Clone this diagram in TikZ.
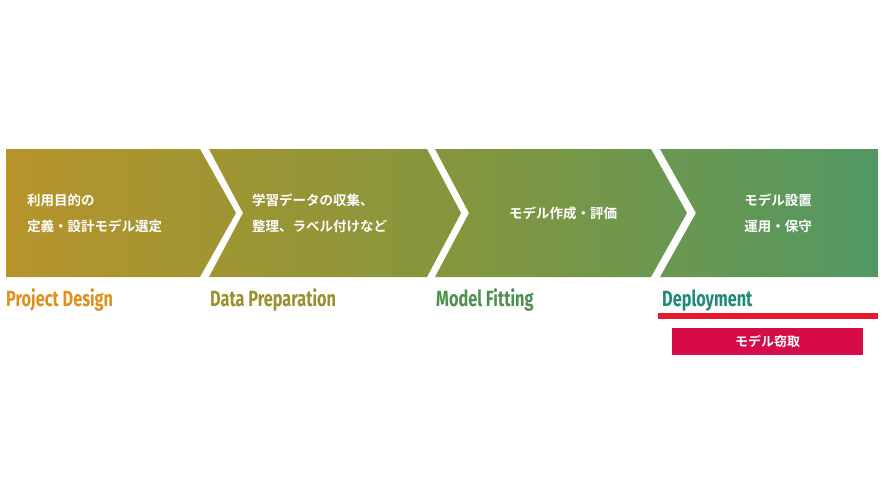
\documentclass[tikz,border=0pt]{standalone}
\usepackage{fontspec}
\newfontfamily\jp{Noto Sans CJK JP}[BoldFont={* Bold}]
\newfontfamily\cond{Fira Sans}[FakeStretch=0.74]
\definecolor{cA}{HTML}{E8921A}
\definecolor{cB}{HTML}{86963C}
\definecolor{cC}{HTML}{1E9A8A}
\definecolor{lA}{HTML}{E0901C}
\definecolor{lB}{HTML}{9A902E}
\definecolor{lC}{HTML}{4E9050}
\definecolor{lD}{HTML}{208A78}
\definecolor{redline}{HTML}{E8192C}
\definecolor{boxred}{HTML}{D60B48}
\pgfdeclarehorizontalshading{band}{100bp}{color(0bp)=(cA); color(50bp)=(cB); color(100bp)=(cC)}
\tikzset{
  jtext/.style={text=white,font=\jp\bfseries\fontsize{13.5}{26}\selectfont,align=left,inner sep=0pt},
  lab/.style={font=\cond\bfseries\fontsize{22}{24}\selectfont,anchor=base west,inner sep=0pt}
}
\begin{document}
\begin{tikzpicture}[x=1pt,y=-1pt]
\useasboundingbox (0,0) rectangle (883,500);
\begin{scope}
\clip (6,149) -- (200,149) -- (236,213) -- (200,277) -- (6,277) -- cycle
      (209,149) -- (427,149) -- (461,213) -- (427,277) -- (209,277) -- (243,213) -- cycle
      (435,149) -- (651,149) -- (687,213) -- (651,277) -- (435,277) -- (469,213) -- cycle
      (660,149) -- (878,149) -- (878,277) -- (660,277) -- (696,213) -- cycle;
\shade[shading=band] (6,149) rectangle (878,277);
\end{scope}
\node[jtext,anchor=west] (t1) at (27,213) {利用目的の\\定義・設計モデル選定};
\node[jtext,anchor=west] (t2) at (252,213) {学習データの収集、\\整理、ラベル付けなど};
\node[jtext] (t3) at (563,213) {モデル作成・評価};
\node[jtext,align=center] (t4) at (778,213) {モデル設置\\運用・保守};
\node[lab,text=lA] (l1) at (6,306) {Project Design};
\node[lab,text=lB] (l2) at (210,306) {Data Preparation};
\node[lab,text=lC] (l3) at (436,306) {Model Fitting};
\node[lab,text=lD] (l4) at (662,306) {Deployment};
\fill[redline] (658,313) rectangle (878,319);
\node[fill=boxred,minimum width=191pt,minimum height=27pt,inner sep=0pt,text=white,font=\jp\bfseries\fontsize{13}{15}\selectfont] (b) at (767.5,341.5) {モデル窃取};
\end{tikzpicture}
\end{document}
